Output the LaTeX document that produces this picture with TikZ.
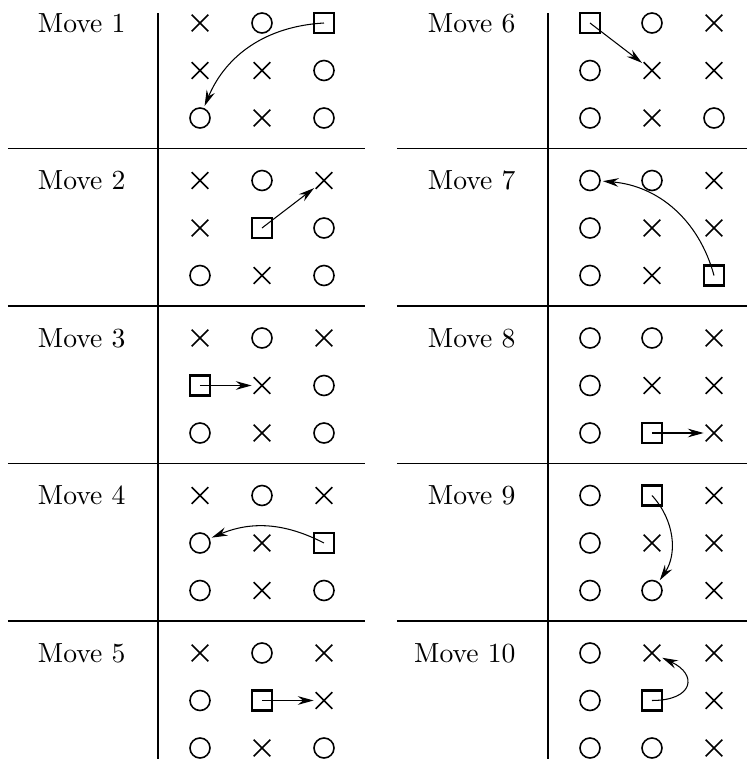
\documentclass[tikz,border=0pt]{standalone}
\usepackage{tikz}
\usetikzlibrary{arrows.meta,shapes.misc}

\begin{document}
\begin{tikzpicture}[
  x=0.38pt, y=0.38pt, font=\fontsize{10.5}{12}\selectfont,
  sym x/.style={cross out, draw, minimum size=5.7pt, inner sep=0pt, line width=0.6pt},
  sym o/.style={circle, draw, minimum size=7.6pt, inner sep=0pt, line width=0.6pt},
  sym s/.style={rectangle, draw, minimum size=7.6pt, inner sep=0pt, line width=0.8pt},
  mv/.style={-{Stealth[length=6pt,width=3.3pt,inset=2pt]}, line width=0.4pt, shorten >=0.8pt},
  sep/.style={line width=0.5pt},
  lab/.style={anchor=base east, inner sep=0pt}
]
\useasboundingbox (0,0) rectangle (748,759);

% the two vertical rules
\foreach \vx in {158,548} {
  \draw[sep] (\vx,746) -- (\vx,0);
}

% horizontal rules between the moves
\foreach \k in {0,...,3} {
  \pgfmathsetmacro\hy{759-148.5-157.5*\k}
  \draw[sep] (8,\hy) -- (365,\hy);
  \draw[sep] (397,\hy) -- (747,\hy);
}

% boards: move / rule x / slot / cells row by row
\foreach \m/\vx/\k/\cells in {
    1/158/0/{x,o,s,x,x,o,o,x,o},
    2/158/1/{x,o,x,x,s,o,o,x,o},
    3/158/2/{x,o,x,s,x,o,o,x,o},
    4/158/3/{x,o,x,o,x,s,o,x,o},
    5/158/4/{x,o,x,o,s,x,o,x,o},
    6/548/0/{s,o,x,o,x,x,o,x,o},
    7/548/1/{o,o,x,o,x,x,o,x,s},
    8/548/2/{o,o,x,o,x,x,o,s,x},
    9/548/3/{o,s,x,o,x,x,o,o,x},
    10/548/4/{o,x,x,o,s,x,o,o,x}} {
  \pgfmathsetmacro\ty{736-157.5*\k}
  \node[lab] (lab\m) at (\vx-32,\ty-9.5) {Move \m};
  \foreach \s [count=\i from 0] in \cells {
    \pgfmathtruncatemacro\r{div(\i,3)+1}
    \pgfmathtruncatemacro\c{mod(\i,3)+1}
    \pgfmathsetmacro\cx{\vx+{42,104,166}[\c-1]}
    \pgfmathsetmacro\cy{\ty-47.5*(\r-1)}
    \node[sym \s] (m\m-\r-\c) at (\cx,\cy) {};
  }
}

% the moves
\draw[mv] (m1-1-3.center) to[bend right=32] (m1-3-1);
\draw[mv] (m2-2-2.center) -- (m2-1-3);
\draw[mv] (m3-2-1.center) -- (m3-2-2);
\draw[mv] (m4-2-3.center) to[bend right=25] (m4-2-1);
\draw[mv] (m5-2-2.center) -- (m5-2-3);
\draw[mv] (m6-1-1.center) -- (m6-2-2);
\draw[mv] (m7-3-3.center) to[bend right=35] (m7-1-1);
\draw[mv] (m8-3-2.center) -- (m8-3-3);
\draw[mv] (m9-1-2.center) to[bend left=38] (m9-3-2);
\draw[mv] (m10-2-2.center) to[out=0, in=-25, looseness=2.4] (m10-1-2);
\end{tikzpicture}
\end{document}
